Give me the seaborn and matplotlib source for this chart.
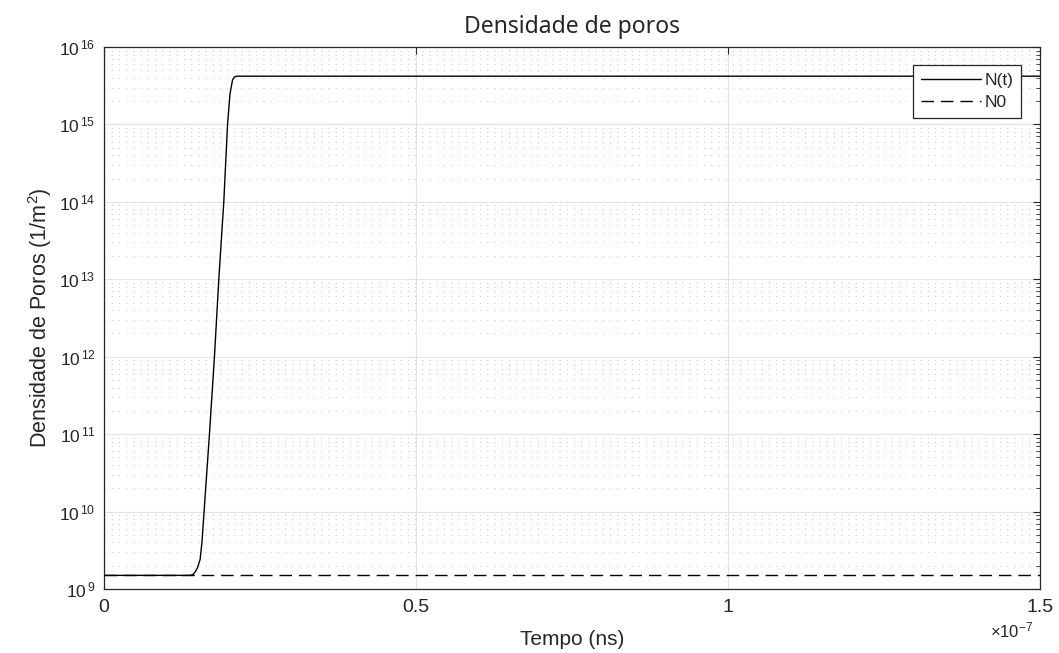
import numpy as np
import pandas as pd
import matplotlib
matplotlib.use("Agg")
import matplotlib.pyplot as plt
import matplotlib.ticker as mticker
import seaborn as sns

# Pore density N(t) over time (s) and the initial density N0 (1/m^2)
tempo = [0.0, 1.38e-8, 1.43e-8, 1.47e-8, 1.50e-8, 1.54e-8, 1.57e-8, 1.60e-8,
         1.69e-8, 1.77e-8, 1.84e-8, 1.92e-8, 1.98e-8, 2.02e-8, 2.06e-8,
         2.09e-8, 2.13e-8, 1.5e-7]
densidade = [1.5e9, 1.5e9, 1.55e9, 1.7e9, 1.9e9, 2.4e9, 4.0e9, 9.0e9,
             1.0e11, 1.0e12, 1.0e13, 1.0e14, 1.0e15, 2.5e15, 3.75e15,
             4.1e15, 4.2e15, 4.2e15]
n0_tempo = [0.0, 1.5e-7]
n0_valor = [1.5e9, 1.5e9]

x_ticks = [0.0, 0.5e-7, 1.0e-7, 1.5e-7]
x_labels = ["0", "0.5", "1", "1.5"]
y_ticks = [1e9, 1e10, 1e11, 1e12, 1e13, 1e14, 1e15, 1e16]

sns.set_style("white")
plt.rcParams["font.family"] = ["Liberation Sans", "DejaVu Sans"]
plt.rcParams["mathtext.fontset"] = "custom"
plt.rcParams["mathtext.rm"] = "Liberation Sans"
plt.rcParams["mathtext.it"] = "Liberation Sans"

fig = plt.figure(figsize=(10.59, 6.53), dpi=100)
ax = fig.add_axes([0.0982, 0.098, 0.8838, 0.830])

df_n = pd.DataFrame({"t": tempo, "N": densidade})
df_0 = pd.DataFrame({"t": n0_tempo, "N": n0_valor})

sns.lineplot(data=df_0, x="t", y="N", ax=ax, color="black", lw=1.0,
             dashes=False, label="N0", zorder=3)
ax.lines[-1].set_dashes((9, 5))
sns.lineplot(data=df_n, x="t", y="N", ax=ax, color="black", lw=1.0,
             label="N(t)", zorder=4)

ax.set_yscale("log")
ax.set_xlim(0, 1.5e-7)
ax.set_ylim(1e9, 1e16)

ax.set_xticks(x_ticks)
ax.set_xticklabels(x_labels)
ax.set_yticks(y_ticks)
ax.yaxis.set_major_formatter(mticker.FuncFormatter(
    lambda v, p: r"$10^{\,%d}$" % int(round(np.log10(v)))))
ax.yaxis.set_minor_locator(mticker.LogLocator(base=10, subs=np.arange(2, 10)))
ax.yaxis.set_minor_formatter(mticker.NullFormatter())

ax.tick_params(axis="x", which="major", direction="in", length=5,
               labelsize=14, pad=7, top=True, color="#262626")
ax.tick_params(axis="y", which="major", direction="in", length=5,
               labelsize=12.5, pad=6, right=True, color="#262626")
ax.tick_params(axis="y", which="minor", direction="in", length=3,
               right=True, color="#262626")

ax.grid(True, which="major", color="#e3e3e3", lw=0.8, ls="-")
ax.grid(True, which="minor", axis="y", color="#cccccc", lw=0.8,
        ls=(0, (1, 5.5)))
ax.set_axisbelow(True)

for s in ax.spines.values():
    s.set_color("#262626")
    s.set_linewidth(0.9)

ax.set_title("Densidade de poros", fontsize=16.5, family="Noto Sans", pad=10)
ax.set_xlabel("Tempo (ns)", fontsize=15, labelpad=10)
ax.set_ylabel("Densidade de Poros (1/m$^{2}$)", fontsize=15.5, labelpad=4)
ax.text(0.9925, -0.058, r"$\times10^{-7}$", transform=ax.transAxes,
        ha="right", va="top", fontsize=12, color="#262626")

handles, labels = ax.get_legend_handles_labels()
order = [labels.index("N(t)"), labels.index("N0")]
leg = ax.legend([handles[i] for i in order], [labels[i] for i in order],
                loc="upper right", bbox_to_anchor=(0.980, 0.967),
                fontsize=12.5, frameon=True, fancybox=False,
                handlelength=3.45, handletextpad=0.2, borderpad=0.45,
                labelspacing=0.42, borderaxespad=0)
leg.get_frame().set_edgecolor("#262626")
leg.get_frame().set_linewidth(0.9)
leg.get_frame().set_alpha(1.0)
leg.get_lines()[1].set_dashes((9, 5))

fig.savefig("out.png", dpi=100)
